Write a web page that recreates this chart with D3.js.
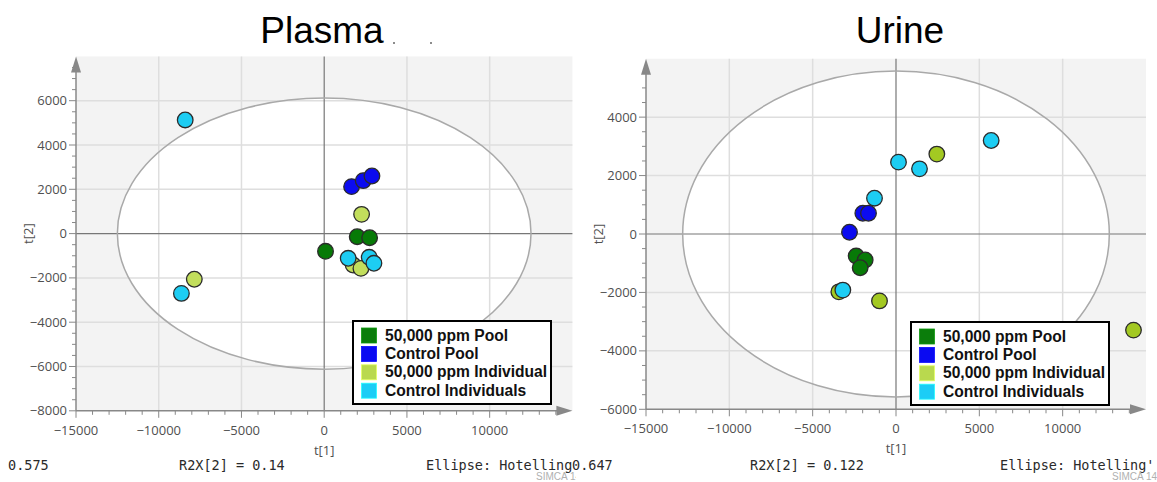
<!DOCTYPE html>
<html>
<head>
<meta charset="utf-8">
<script src="https://cdn.jsdelivr.net/npm/d3@7"></script>
<style>
  html, body { margin: 0; padding: 0; background: #fff; }
  svg { display: block; }
  .tick-label { font-family: "Open Sans", "DejaVu Sans", sans-serif; font-size: 13px; fill: #505050; }
  .mono { font-family: "DejaVu Sans Mono", monospace; font-size: 13.5px; fill: #2a2a2a; }
  .legend-text { font-family: "Liberation Sans", Arial, sans-serif; font-size: 15.6px; font-weight: bold; fill: #111; }
  .title { font-family: "Liberation Sans", Arial, sans-serif; font-size: 37px; fill: #000; }
</style>
</head>
<body>
<svg id="chart" width="1157" height="482"></svg>
<script>
// group names and colours
const groups = ["50,000 ppm Pool", "Control Pool", "50,000 ppm Individual", "Control Individuals"];
const legendColors = ["#0b7d0b", "#0a0af2", "#b9d94e", "#1ccdf6"];

// Plasma scores [t1, t2]
const plasmaPool = [[80, -800], [1995, -140], [2745, -185]];
const plasmaControlPool = [[1655, 2120], [2360, 2390], [2885, 2600]];
const plasmaIndividual = [[-7850, -2060], [2260, 870], [1750, -1420], [2220, -1570]];
const plasmaControlInd = [[-8400, 5130], [-8630, -2700], [1450, -1115], [2720, -1070], [3005, -1340]];

// Urine scores [t1, t2]
const urinePool = [[-2390, -755], [-1850, -890], [-2150, -1155]];
const urineControlPool = [[-1990, 710], [-1650, 710], [-2790, 60]];
const urineIndividual = [[2450, 2735], [-3430, -1980], [-990, -2290], [14250, -3290]];
const urineControlInd = [[5710, 3200], [150, 2460], [1410, 2230], [-1290, 1225], [-3190, -1920]];

// axis ticks
const xTicks = [-15000, -10000, -5000, 0, 5000, 10000];
const plasmaYTicks = [-8000, -6000, -4000, -2000, 0, 2000, 4000, 6000];
const urineYTicks = [-6000, -4000, -2000, 0, 2000, 4000];

// Hotelling T2 ellipse radii [t1, t2]
const plasmaEllipse = [12500, 6120];
const urineEllipse = [12800, 5575];

// footer texts
const plasmaFooter = ["0.575", "R2X[2] = 0.14", "Ellipse: Hotelling"];
const urineFooter = ["0.647", "R2X[2] = 0.122", "Ellipse: Hotelling'"];

const svg = d3.select("#chart");
const pointColors = ["#077a07", "#0b0bf0", null, "#1dcdf3"];

function drawPanel(cfg) {
  const g = svg.append("g");
  const x = d3.scaleLinear().domain([-15000, 15000]).range(cfg.xRange);
  const y = d3.scaleLinear().domain(cfg.yDomain).range(cfg.yRange);
  const [x0, x1] = cfg.xRange;
  const [yb, yt] = cfg.yRange;

  g.append("rect").attr("x", x0).attr("y", yt).attr("width", x1 - x0).attr("height", yb - yt).attr("fill", "#f3f3f3");
  g.append("ellipse").attr("cx", x(0)).attr("cy", y(0))
    .attr("rx", x(cfg.ellipse[0]) - x(0)).attr("ry", y(0) - y(cfg.ellipse[1]))
    .attr("fill", "#fff");

  // grid
  g.selectAll("line.gx").data(xTicks.filter(d => d !== 0 && d !== -15000))
    .join("line").attr("class", "gx")
    .attr("x1", d => x(d)).attr("x2", d => x(d)).attr("y1", yt).attr("y2", yb)
    .attr("stroke", "#dedede").attr("stroke-width", 1.5);
  g.selectAll("line.gy").data(cfg.yTicks.filter(d => d !== 0 && d !== cfg.yDomain[0]))
    .join("line").attr("class", "gy")
    .attr("x1", x0).attr("x2", x1).attr("y1", d => y(d)).attr("y2", d => y(d))
    .attr("stroke", "#dedede").attr("stroke-width", 1.5);
  g.append("line").attr("x1", x(0)).attr("x2", x(0)).attr("y1", yt).attr("y2", yb).attr("stroke", "#777").attr("stroke-width", 1.2);
  g.append("line").attr("x1", x0).attr("x2", x1).attr("y1", y(0)).attr("y2", y(0)).attr("stroke", "#777").attr("stroke-width", 1.2);

  g.append("ellipse").attr("cx", x(0)).attr("cy", y(0))
    .attr("rx", x(cfg.ellipse[0]) - x(0)).attr("ry", y(0) - y(cfg.ellipse[1]))
    .attr("fill", "none").attr("stroke", "#a9a9a9").attr("stroke-width", 1.5);

  // axes
  g.append("line").attr("x1", x0).attr("x2", x0).attr("y1", yb).attr("y2", yt + 14).attr("stroke", "#888").attr("stroke-width", 1.5);
  g.append("path").attr("d", `M${x0 - 5},${yt + 16}L${x0},${yt}L${x0 + 5},${yt + 16}Z`).attr("fill", "#888");
  g.append("line").attr("x1", x0).attr("x2", x1 - 14).attr("y1", yb).attr("y2", yb).attr("stroke", "#888").attr("stroke-width", 1.5);
  g.append("path").attr("d", `M${x1 - 16},${yb - 5}L${x1},${yb}L${x1 - 16},${yb + 5}Z`).attr("fill", "#888");

  const xMinor = d3.range(-15000, 14001, 1000);
  g.selectAll("line.xt").data(xMinor).join("line").attr("class", "xt")
    .attr("x1", d => x(d)).attr("x2", d => x(d)).attr("y1", yb)
    .attr("y2", d => yb + (d % 5000 === 0 ? 7 : 4)).attr("stroke", "#888");
  const yMinor = d3.range(cfg.yDomain[0], cfg.yDomain[1], 500);
  g.selectAll("line.yt").data(yMinor).join("line").attr("class", "yt")
    .attr("x1", x0).attr("x2", d => x0 - (d % 2000 === 0 ? 7 : 4))
    .attr("y1", d => y(d)).attr("y2", d => y(d)).attr("stroke", "#888");

  g.selectAll("text.xl").data(xTicks).join("text").attr("class", "xl tick-label")
    .attr("x", d => x(d)).attr("y", yb + 24).attr("text-anchor", "middle").text(d3.format("d"));
  g.selectAll("text.yl").data(cfg.yTicks).join("text").attr("class", "yl tick-label")
    .attr("x", x0 - 9).attr("y", d => y(d) + 4.5).attr("text-anchor", "end").text(d3.format("d"));

  g.append("text").attr("class", "tick-label").attr("x", x(0)).attr("y", yb + 44).attr("text-anchor", "middle").text("t[1]");
  g.append("text").attr("class", "tick-label").attr("text-anchor", "middle")
    .attr("transform", `translate(${x0 - 43},${y(0)}) rotate(-90)`).text("t[2]");

  // points
  const colors = pointColors.slice();
  colors[2] = cfg.indColor;
  cfg.series.forEach((pts, i) => {
    g.selectAll(`circle.s${i}`).data(pts).join("circle").attr("class", `s${i}`)
      .attr("cx", d => x(d[0])).attr("cy", d => y(d[1])).attr("r", 7.8)
      .attr("fill", colors[i]).attr("stroke", "#2b2b2b").attr("stroke-width", 1.3);
  });

  // legend
  const lg = g.append("g").attr("transform", `translate(${cfg.legend[0]},${cfg.legend[1]})`);
  lg.append("rect").attr("width", 198).attr("height", 83).attr("fill", "#fff").attr("stroke", "#000").attr("stroke-width", 2);
  groups.forEach((name, i) => {
    lg.append("rect").attr("x", 8.5).attr("y", 7 + i * 18.4).attr("width", 15).attr("height", 15)
      .attr("fill", legendColors[i]).attr("stroke", d3.color(legendColors[i]).brighter(0.6)).attr("stroke-width", 0.8);
    lg.append("text").attr("class", "legend-text").attr("x", 32).attr("y", 19.5 + i * 18.4).text(name);
  });

  // title
  g.append("text").attr("class", "title").attr("x", cfg.titleX).attr("y", 43).attr("text-anchor", "middle").text(cfg.title);
}

drawPanel({
  title: "Plasma", titleX: 322,
  xRange: [76, 572.4], yDomain: [-8000, 8000], yRange: [410.8, 56.4],
  yTicks: plasmaYTicks, ellipse: plasmaEllipse, legend: [353, 321],
  indColor: "#c2de5c",
  series: [plasmaPool, plasmaControlPool, plasmaIndividual, plasmaControlInd]
});
drawPanel({
  title: "Urine", titleX: 900,
  xRange: [646, 1146], yDomain: [-6000, 6000], yRange: [409.3, 58.7],
  yTicks: urineYTicks, ellipse: urineEllipse, legend: [911, 322],
  indColor: "#a3c922",
  series: [urinePool, urineControlPool, urineIndividual, urineControlInd]
});

// stray marks next to the Plasma title
svg.append("circle").attr("cx", 394).attr("cy", 43).attr("r", 1).attr("fill", "#666");
svg.append("circle").attr("cx", 431).attr("cy", 43).attr("r", 1).attr("fill", "#666");

// footers
svg.append("clipPath").attr("id", "leftClip").append("rect").attr("x", 0).attr("y", 0).attr("width", 576).attr("height", 482);
const lf = svg.append("g").attr("clip-path", "url(#leftClip)");
[[8, plasmaFooter[0]], [179, plasmaFooter[1]], [426, plasmaFooter[2]]].forEach(([px, t]) =>
  lf.append("text").attr("class", "mono").attr("x", px).attr("y", 470).text(t));
lf.append("text").attr("x", 536).attr("y", 480).attr("font-family", "Liberation Sans Narrow, Liberation Sans, sans-serif")
  .attr("font-size", 10).attr("fill", "#b0b0b0").text("SIMCA 14");
[[572, urineFooter[0]], [750, urineFooter[1]], [1000, urineFooter[2]]].forEach(([px, t]) =>
  svg.append("text").attr("class", "mono").attr("x", px).attr("y", 470).text(t));
svg.append("text").attr("x", 1112).attr("y", 480).attr("font-family", "Liberation Sans Narrow, Liberation Sans, sans-serif")
  .attr("font-size", 10).attr("fill", "#b0b0b0").text("SIMCA 14");
</script>
</body>
</html>
